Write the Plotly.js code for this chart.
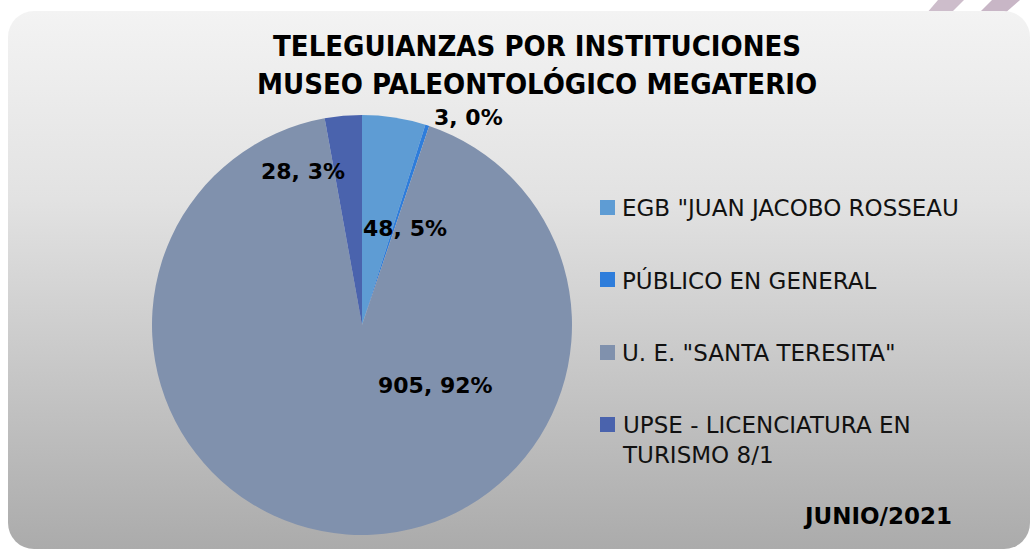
<!DOCTYPE html>
<html>
<head>
<meta charset="utf-8">
<script src="https://cdn.plot.ly/plotly-3.0.1.min.js"></script>
<style>
html,body{margin:0;padding:0;background:#fff;}
#chart{width:1036px;height:551px;}
</style>
</head>
<body>
<div id="chart"></div>
<script>
// ---- data ----
const categories = ['EGB "JUAN JACOBO ROSSEAU', 'PÚBLICO EN GENERAL', 'U. E. "SANTA TERESITA"', 'UPSE - LICENCIATURA EN TURISMO 8/1'];
const legendLabels = ['EGB "JUAN JACOBO ROSSEAU', 'PÚBLICO EN GENERAL', 'U. E. "SANTA TERESITA"', 'UPSE - LICENCIATURA EN<br>TURISMO 8/1'];
const values = [48, 3, 905, 28];
const percentLabels = ['5%', '0%', '92%', '3%'];
const colors = ['#5E9CD4', '#2E7DDB', '#8091AD', '#4A63AD'];
const titleLines = ['TELEGUIANZAS POR INSTITUCIONES', 'MUSEO PALEONTOLÓGICO MEGATERIO'];
const subtitle = 'JUNIO/2021';

// label placement (paper coords, fraction) for each slice's data label
const labelPos = [[0.391, 0.586], [0.4527, 0.786], [0.42, 0.301], [0.2925, 0.688]];

const W = 1036, H = 551;
const bgSvg = '<svg xmlns="http://www.w3.org/2000/svg" width="1036" height="551">' +
  '<defs><linearGradient id="g" x1="0" y1="0" x2="0" y2="1">' +
  '<stop offset="0" stop-color="#f3f3f3"/><stop offset="0.35" stop-color="#e2e2e2"/><stop offset="1" stop-color="#ababab"/></linearGradient></defs>' +
  '<polygon points="938,0 964,0 950,14 926,14" fill="#cdbdcb"/>' +
  '<polygon points="992,0 1020,0 1004,14 978,14" fill="#c8b6c6"/>' +
  '<rect x="8" y="11" width="1022" height="538" rx="26" ry="26" fill="url(#g)"/>' +
  '</svg>';

const annotations = [];
const shapes = [];
values.forEach((v, i) => {
  annotations.push({
    xref: 'paper', yref: 'paper', x: labelPos[i][0], y: labelPos[i][1],
    text: '<b>' + v + ', ' + percentLabels[i] + '</b>', showarrow: false,
    font: {family: 'DejaVu Sans', size: 22, color: '#000'}, xanchor: 'center', yanchor: 'middle'
  });
});
// custom legend
const legTop = [208, 280, 353, 425];
legendLabels.forEach((lab, i) => {
  const yc = legTop[i];
  shapes.push({type: 'rect', xref: 'paper', yref: 'paper',
    x0: 600 / W, x1: 615 / W, y0: 1 - (yc + 7) / H, y1: 1 - (yc - 8) / H,
    fillcolor: colors[i], line: {width: 0}});
  annotations.push({xref: 'paper', yref: 'paper', x: 620 / W, y: 1 - (yc - 15) / H,
    xanchor: 'left', yanchor: 'top', align: 'left', showarrow: false,
    text: lab, font: {family: 'DejaVu Sans', size: 23, color: '#111'}});
});
annotations.push({xref: 'paper', yref: 'paper', x: 537 / W, y: 1 - 27 / H, xanchor: 'center', yanchor: 'top',
  showarrow: false, text: '<b>' + titleLines.join('<br>') + '</b>',
  font: {family: 'DejaVu Sans Condensed, sans-serif', size: 29, color: '#000'}});
annotations.push({xref: 'paper', yref: 'paper', x: 877 / W, y: 1 - 516 / H, xanchor: 'center', yanchor: 'middle',
  showarrow: false, text: '<b>' + subtitle + '</b>',
  font: {family: 'DejaVu Sans', size: 23, color: '#000'}});

const trace = {
  type: 'pie', labels: categories, values: values, sort: false, direction: 'clockwise', rotation: 0,
  marker: {colors: colors, line: {width: 0}}, textinfo: 'none', hoverinfo: 'label+value+percent',
  showlegend: false,
  domain: {x: [152 / W, 572 / W], y: [1 - 535 / H, 1 - 115 / H]}
};

Plotly.newPlot('chart', [trace], {
  width: W, height: H, margin: {l: 0, r: 0, t: 0, b: 0},
  paper_bgcolor: '#ffffff', showlegend: false,
  images: [{source: 'data:image/svg+xml;charset=utf-8,' + encodeURIComponent(bgSvg),
    xref: 'paper', yref: 'paper', x: 0, y: 1, sizex: 1, sizey: 1, sizing: 'stretch', layer: 'below',
    xanchor: 'left', yanchor: 'top'}],
  shapes: shapes, annotations: annotations
}, {displayModeBar: false, staticPlot: true});
</script>
</body>
</html>
